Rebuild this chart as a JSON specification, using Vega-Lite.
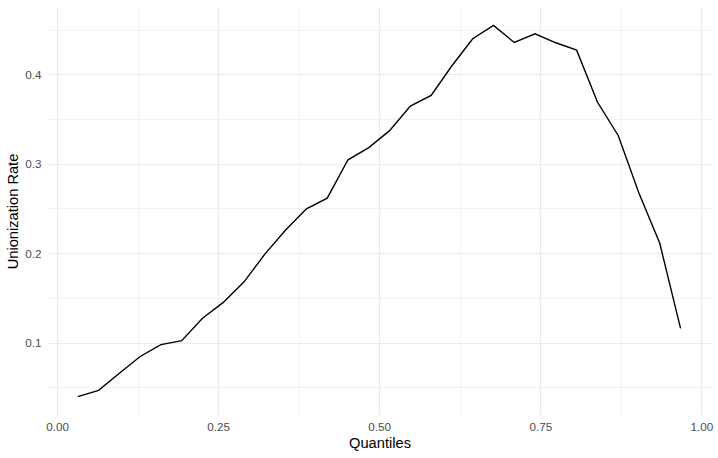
{
  "$schema": "https://vega.github.io/schema/vega-lite/v6.json",
  "width": 663,
  "height": 408,
  "autosize": {"type": "none"},
  "padding": {"left": 48, "top": 7, "right": 7, "bottom": 43},
  "background": "white",
  "config": {
    "view": {"stroke": null},
    "font": "Liberation Sans",
    "axis": {
      "ticks": false,
      "domain": false,
      "labelFont": "Liberation Sans",
      "labelFontSize": 11.7,
      "labelColor": "#4D4D4D",
      "titleFont": "Liberation Sans",
      "titleFontSize": 14.67,
      "titleFontWeight": "normal",
      "titleColor": "#000000",
      "gridColor": "#EBEBEB"
    }
  },
  "data": {
    "values": [
      {"q": 0.03226, "rate": 0.0396},
      {"q": 0.06452, "rate": 0.0467},
      {"q": 0.09677, "rate": 0.0657},
      {"q": 0.12903, "rate": 0.0845},
      {"q": 0.16129, "rate": 0.0978},
      {"q": 0.19355, "rate": 0.1022},
      {"q": 0.22581, "rate": 0.1272},
      {"q": 0.25806, "rate": 0.1450},
      {"q": 0.29032, "rate": 0.1680},
      {"q": 0.32258, "rate": 0.1990},
      {"q": 0.35484, "rate": 0.2260},
      {"q": 0.38710, "rate": 0.2496},
      {"q": 0.41935, "rate": 0.2615},
      {"q": 0.45161, "rate": 0.3044},
      {"q": 0.48387, "rate": 0.3180},
      {"q": 0.51613, "rate": 0.3370},
      {"q": 0.54839, "rate": 0.3644},
      {"q": 0.58065, "rate": 0.3763},
      {"q": 0.61290, "rate": 0.4095},
      {"q": 0.64516, "rate": 0.4397},
      {"q": 0.67742, "rate": 0.4546},
      {"q": 0.70968, "rate": 0.4356},
      {"q": 0.74194, "rate": 0.4453},
      {"q": 0.77419, "rate": 0.4352},
      {"q": 0.80645, "rate": 0.4270},
      {"q": 0.83871, "rate": 0.3690},
      {"q": 0.87097, "rate": 0.3316},
      {"q": 0.90323, "rate": 0.2670},
      {"q": 0.93548, "rate": 0.2110},
      {"q": 0.96774, "rate": 0.1160}
    ]
  },
  "mark": {"type": "line", "color": "#000000", "strokeWidth": 1.4},
  "encoding": {
    "x": {
      "field": "q",
      "type": "quantitative",
      "scale": {"domain": [-0.014, 1.015], "nice": false, "zero": false},
      "axis": {
        "title": "Quantiles",
        "values": [0, 0.125, 0.25, 0.375, 0.5, 0.625, 0.75, 0.875, 1],
        "labelExpr": "round(datum.value * 8) % 2 == 1 ? '' : format(datum.value, '.2f')",
        "gridWidth": {"condition": {"test": "round(datum.value * 8) % 2 == 1", "value": 0.6}, "value": 1.2},
        "labelPadding": 6,
        "titlePadding": 3
      }
    },
    "y": {
      "field": "rate",
      "type": "quantitative",
      "scale": {"domain": [0.0191, 0.4752], "nice": false, "zero": false},
      "axis": {
        "title": "Unionization Rate",
        "values": [0.05, 0.1, 0.15, 0.2, 0.25, 0.3, 0.35, 0.4, 0.45],
        "labelExpr": "round(datum.value * 20) % 2 == 1 ? '' : format(datum.value, '.1f')",
        "gridWidth": {"condition": {"test": "round(datum.value * 20) % 2 == 1", "value": 0.6}, "value": 1.2},
        "labelPadding": 7,
        "titlePadding": 4
      }
    }
  }
}
